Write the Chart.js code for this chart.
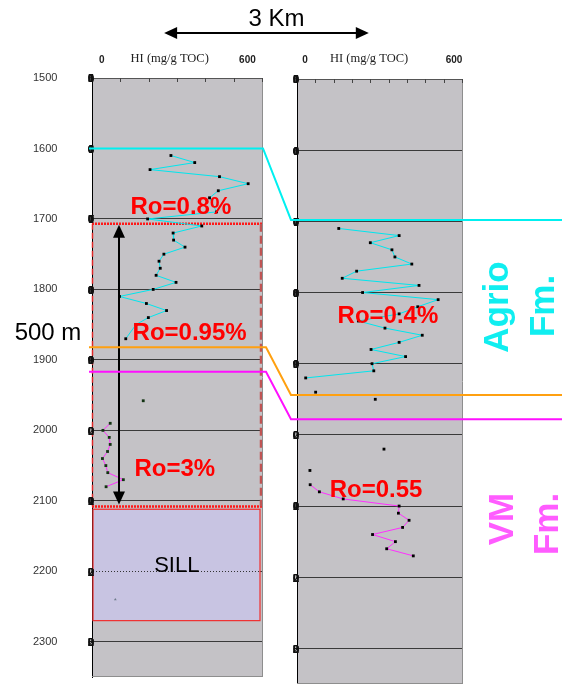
<!DOCTYPE html>
<html>
<head>
<meta charset="utf-8">
<script src="https://cdn.jsdelivr.net/npm/chart.js@4.4.1/dist/chart.umd.min.js"></script>
<style>
  body { margin: 0; background: #fff; }
  #wrap { position: relative; width: 562px; height: 684px; overflow: hidden; }
  #wrap canvas { position: absolute; top: 0; left: 0; }
</style>
</head>
<body>
<div id="wrap">
  <canvas id="wellA" width="270" height="684"></canvas>
  <canvas id="wellB" width="562" height="684"></canvas>
</div>
<script>
// depth ticks (m) and HI axis labels
const depthTicks = [1500, 1600, 1700, 1800, 1900, 2000, 2100, 2200, 2300];
const hiTickLabels = ['0', 'HI (mg/g TOC)', '600'];
const hiTickValuesA = [0, 280, 600];
const hiTickValuesB = [0, 258, 600];

// well A (left) - Agrio Fm. samples
const agrioDepthA = [1610, 1620, 1630, 1640, 1650, 1660, 1670, 1690, 1700, 1710, 1720, 1730, 1740,
  1750, 1760, 1770, 1780, 1790, 1800, 1810, 1820, 1830, 1840, 1850, 1870];
const agrioHiA = [285, 383, 199, 485, 603, 480, 444, 473, 189, 412, 294, 296, 343,
  256, 236, 241, 224, 306, 212, 73, 184, 267, 192, 141, 99];
// well A - Vaca Muerta samples
const vmDepthA = [1990, 2000, 2010, 2020, 2030, 2040, 2050, 2060, 2070, 2080];
const vmHiA = [35, 5, 31, 35, 24, 3, 17, 25, 89, 18];
const looseDepthA = [1958];
const looseHiA = [171];
const sillDepthA = [2240];
const sillHiA = [56];

// well B (right)
const agrioDepthB = [1710, 1720, 1730, 1740, 1750, 1760, 1770, 1780, 1790, 1800, 1810, 1820, 1830,
  1840, 1850, 1860, 1870, 1880, 1890, 1900, 1910, 1920];
const agrioHiB = [136, 379, 263, 350, 362, 430, 208, 150, 459, 232, 536, 454, 379,
  215, 322, 472, 379, 266, 405, 270, 277, 3];
const looseDepthB = [1940, 1950, 2020, 2050];
const looseHiB = [43, 283, 318, 20];
const vmDepthB = [2070, 2080, 2090, 2100, 2110, 2120, 2130, 2140, 2150, 2160, 2170];
const vmHiB = [21, 58, 154, 379, 376, 419, 393, 272, 364, 329, 436];

// correlation tops (left depth -> right depth)
const corrColors = ['#00F0F0', '#FFA010', '#FF10FF'];
const corrDepthA = [1600, 1882, 1917];
const corrDepthB = [1698, 1944, 1978];

// sill and thermal aureole in well A
const aureoleTop = 1707, aureoleBase = 2108;
const sillTop = 2112, sillBase = 2270;

const roTextA = ['Ro=0.8%', 'Ro=0.95%', 'Ro=3%'];
const roHiA = [326, 362, 301];
const roDepthA = [1684, 1862, 2055];
const roTextB = ['Ro=0.4%', 'Ro=0.55'];
const roHiB = [334, 286];
const roDepthB = [1833, 2078];

const pairs = (xs, ys) => xs.map((x, i) => ({ x: x, y: ys[i] }));

const SANS = 'Liberation Sans, Arial, sans-serif';
const SERIF = 'Liberation Serif, Times New Roman, serif';

function arrowHead(ctx, x, y, dir, w, h) {
  ctx.beginPath();
  if (dir === 'up') { ctx.moveTo(x, y); ctx.lineTo(x - w / 2, y + h); ctx.lineTo(x + w / 2, y + h); }
  if (dir === 'down') { ctx.moveTo(x, y); ctx.lineTo(x - w / 2, y - h); ctx.lineTo(x + w / 2, y - h); }
  if (dir === 'left') { ctx.moveTo(x, y); ctx.lineTo(x + h, y - w / 2); ctx.lineTo(x + h, y + w / 2); }
  if (dir === 'right') { ctx.moveTo(x, y); ctx.lineTo(x - h, y - w / 2); ctx.lineTo(x - h, y + w / 2); }
  ctx.closePath();
  ctx.fill();
}

function redText(ctx, xs, ys, texts, xv, yv) {
  ctx.save();
  ctx.fillStyle = '#FF0000';
  ctx.font = 'bold 24px ' + SANS;
  ctx.textAlign = 'center';
  ctx.textBaseline = 'middle';
  texts.forEach((t, i) => ctx.fillText(t, xs.getPixelForValue(xv[i]), ys.getPixelForValue(yv[i])));
  ctx.restore();
}

function vText(ctx, text, x, y, color, size) {
  ctx.save();
  ctx.translate(x, y);
  ctx.rotate(-Math.PI / 2);
  ctx.fillStyle = color;
  ctx.font = 'bold ' + size + 'px ' + SANS;
  ctx.textAlign = 'center';
  ctx.textBaseline = 'middle';
  ctx.fillText(text, 0, 0);
  ctx.restore();
}

// grey log panel, borders, top tick marks, squashed depth digits
const panelPlugin = {
  id: 'panel',
  beforeDraw(chart) {
    const { ctx, chartArea: a } = chart;
    ctx.save();
    ctx.fillStyle = '#C4C2C6';
    ctx.fillRect(a.left, a.top, a.right - a.left, a.bottom - a.top);
    ctx.restore();
  },
  afterDraw(chart, args, opts) {
    const { ctx, chartArea: a } = chart;
    ctx.save();
    ctx.strokeStyle = '#8e8e8e';
    ctx.lineWidth = 1;
    ctx.beginPath();
    ctx.moveTo(a.right + 0.5, a.top);
    ctx.lineTo(a.right + 0.5, a.bottom);
    ctx.moveTo(a.left, a.bottom - 0.5);
    ctx.lineTo(a.right, a.bottom - 0.5);
    ctx.stroke();
    ctx.strokeStyle = '#444';
    ctx.beginPath();
    for (let i = 0; i <= opts.topTicks; i++) {
      const x = Math.round(a.left + (a.right - a.left) * i / opts.topTicks) + 0.5;
      ctx.moveTo(x, a.top);
      ctx.lineTo(x, a.top + 4);
    }
    ctx.stroke();
    // overlapping digits at the panel edge
    ctx.fillStyle = '#111';
    ctx.font = 'bold 13px ' + SERIF;
    ctx.textAlign = 'center';
    ctx.textBaseline = 'middle';
    const ys = chart.scales.y;
    ys.ticks.forEach(t => {
      const y = ys.getPixelForValue(t.value);
      String(t.value).split('').forEach(ch => ctx.fillText(ch, a.left - 1, y + 1));
    });
    ctx.restore();
  }
};

const wellAPlugin = {
  id: 'wellA',
  beforeDatasetsDraw(chart) {
    const { ctx, chartArea: a, scales: { y } } = chart;
    ctx.save();
    // sill body
    const sT = y.getPixelForValue(sillTop), sB = y.getPixelForValue(sillBase);
    ctx.fillStyle = '#C8C4E2';
    ctx.fillRect(a.left + 1, sT, a.right - a.left - 3, sB - sT);
    ctx.strokeStyle = '#F03030';
    ctx.lineWidth = 1.2;
    ctx.strokeRect(a.left + 1, sT, a.right - a.left - 3, sB - sT);
    ctx.strokeStyle = '#333';
    ctx.lineWidth = 1;
    ctx.setLineDash([1, 2]);
    const y22 = Math.round(y.getPixelForValue(2200)) + 0.5;
    ctx.beginPath();
    ctx.moveTo(a.left + 1, y22);
    ctx.lineTo(a.right - 2, y22);
    ctx.stroke();
    // aureole outline
    const aT = y.getPixelForValue(aureoleTop), aB = y.getPixelForValue(aureoleBase);
    ctx.strokeStyle = '#FF1818';
    ctx.lineWidth = 2.5;
    ctx.setLineDash([2, 1]);
    ctx.beginPath();
    ctx.moveTo(a.left, aT); ctx.lineTo(a.right, aT);
    ctx.moveTo(a.left, aB); ctx.lineTo(a.right, aB);
    ctx.stroke();
    ctx.lineWidth = 1.5;
    ctx.strokeStyle = '#E02828';
    ctx.setLineDash([6, 3]);
    ctx.beginPath();
    ctx.moveTo(a.left + 0.5, aT); ctx.lineTo(a.left + 0.5, aB);
    ctx.stroke();
    ctx.lineWidth = 2.5;
    ctx.strokeStyle = '#C05454';
    ctx.setLineDash([8, 4]);
    ctx.beginPath();
    ctx.moveTo(a.right - 1, aT); ctx.lineTo(a.right - 1, aB);
    ctx.stroke();
    ctx.restore();
  },
  afterDatasetsDraw(chart) {
    const { ctx, scales: { x, y } } = chart;
    ctx.save();
    // 500 m thickness arrow
    const ax = Math.round(x.getPixelForValue(72));
    const aT = y.getPixelForValue(aureoleTop) + 1, aB = y.getPixelForValue(aureoleBase) - 2;
    ctx.strokeStyle = '#000';
    ctx.fillStyle = '#000';
    ctx.lineWidth = 2;
    ctx.beginPath();
    ctx.moveTo(ax, aT + 10);
    ctx.lineTo(ax, aB - 10);
    ctx.stroke();
    arrowHead(ctx, ax, aT, 'up', 12, 13);
    arrowHead(ctx, ax, aB, 'down', 12, 13);
    ctx.font = '24px ' + SANS;
    ctx.textAlign = 'center';
    ctx.textBaseline = 'middle';
    ctx.fillText('500 m', 48, y.getPixelForValue(1862));
    ctx.font = '22px ' + SANS;
    ctx.fillText('SILL', x.getPixelForValue(309), y.getPixelForValue(2192));
    ctx.restore();
    redText(ctx, x, y, roTextA, roHiA, roDepthA);
  }
};

function hiAxis(min, max, values, top, pad) {
  return {
    type: 'linear', position: 'top', min: min, max: max,
    afterBuildTicks: s => { s.ticks = values.map(v => ({ value: v })); },
    afterFit: s => { s.height = top; s.paddingLeft = 0; s.paddingRight = 0; },
    grid: { display: false, drawTicks: false },
    border: { display: false },
    ticks: {
      autoSkip: false, maxRotation: 0, minRotation: 0, padding: pad, color: '#222',
      callback: (v, i) => hiTickLabels[i],
      font: c => c.index === 1 ? { family: SERIF, size: 12.5 } : { family: SANS, size: 10, weight: 'bold' }
    }
  };
}

function depthAxis(width, showLabels) {
  return {
    type: 'linear', reverse: true, min: 1500, max: 2350,
    afterBuildTicks: s => { s.ticks = depthTicks.map(v => ({ value: v })); },
    afterFit: s => { s.width = width; s.paddingTop = 0; s.paddingBottom = 0; },
    grid: { drawTicks: false, lineWidth: 1, color: c => c.tick && c.tick.value === 1500 ? '#555' : '#3a3a3a' },
    border: { display: true, color: '#000', width: 1 },
    ticks: {
      display: showLabels, padding: 0, crossAlign: 'far', color: '#333',
      font: { family: SANS, size: 11 },
      callback: v => String(v)
    }
  };
}

const dotStyle = { pointStyle: 'rect', pointRadius: 2, pointBorderWidth: 0, pointBackgroundColor: '#000', tension: 0 };

const chartA = new Chart(document.getElementById('wellA'), {
  type: 'scatter',
  data: {
    datasets: [
      Object.assign({ data: pairs(agrioHiA, agrioDepthA), showLine: true, borderColor: '#00E6EE', borderWidth: 1 }, dotStyle),
      Object.assign({ data: pairs(vmHiA, vmDepthA), showLine: true, borderColor: '#FF30FF', borderWidth: 1 }, dotStyle,
        { pointBackgroundColor: '#123312' }),
      Object.assign({ data: pairs(looseHiA, looseDepthA), showLine: false }, dotStyle, { pointBackgroundColor: '#123312' }),
      { data: pairs(sillHiA, sillDepthA), showLine: false, pointStyle: 'triangle', pointRadius: 1.6,
        pointBorderWidth: 0, pointBackgroundColor: '#6e7c8c' }
    ]
  },
  options: {
    responsive: false,
    animation: false,
    layout: { autoPadding: false, padding: { left: 33, right: 8, top: 0, bottom: 7 } },
    scales: {
      x: hiAxis(-40, 660, hiTickValuesA, 78, 12),
      y: depthAxis(59, true)
    },
    plugins: { legend: { display: false }, tooltip: { enabled: false }, panel: { topTicks: 6 } }
  },
  plugins: [panelPlugin, wellAPlugin]
});

const wellBPlugin = {
  id: 'wellB',
  afterDatasetsDraw(chart) {
    redText(chart.ctx, chart.scales.x, chart.scales.y, roTextB, roHiB, roDepthB);
  },
  afterDraw(chart) {
    const { ctx, chartArea: b, scales: { x, y } } = chart;
    const a = chartA.chartArea, yA = chartA.scales.y, xA = chartA.scales.x;
    ctx.save();
    // correlation lines between the wells
    ctx.lineWidth = 2;
    corrColors.forEach((c, i) => {
      const y1 = yA.getPixelForValue(corrDepthA[i]);
      const y2 = y.getPixelForValue(corrDepthB[i]);
      const xEnd = a.right + (i === 0 ? 1 : 4);
      ctx.strokeStyle = c;
      ctx.beginPath();
      ctx.moveTo(a.left - 3, y1);
      ctx.lineTo(xEnd, y1);
      ctx.lineTo(b.left - 6, y2);
      ctx.lineTo(chart.width, y2);
      ctx.stroke();
    });
    // distance arrow
    const x1 = xA.getPixelForValue(257), x2 = x.getPixelForValue(257), ya = 33;
    ctx.strokeStyle = '#000';
    ctx.fillStyle = '#000';
    ctx.lineWidth = 2;
    ctx.beginPath();
    ctx.moveTo(x1 + 10, ya);
    ctx.lineTo(x2 - 10, ya);
    ctx.stroke();
    arrowHead(ctx, x1, ya, 'left', 12, 13);
    arrowHead(ctx, x2, ya, 'right', 12, 13);
    ctx.font = '24px ' + SANS;
    ctx.textAlign = 'center';
    ctx.textBaseline = 'middle';
    ctx.fillText('3 Km', (x1 + x2) / 2 + 10, 19);
    ctx.restore();
    // formation names
    vText(ctx, 'Agrio', 498, 307, '#10EEF0', 35);
    vText(ctx, 'Fm.', 544, 306, '#10EEF0', 35);
    vText(ctx, 'VM', 503, 519, '#FF5CFF', 35);
    vText(ctx, 'Fm.', 548, 524, '#FF5CFF', 35);
  }
};

const chartB = new Chart(document.getElementById('wellB'), {
  type: 'scatter',
  data: {
    datasets: [
      Object.assign({ data: pairs(agrioHiB, agrioDepthB), showLine: true, borderColor: '#00E6EE', borderWidth: 1 }, dotStyle),
      Object.assign({ data: pairs(looseHiB, looseDepthB), showLine: false }, dotStyle),
      Object.assign({ data: pairs(vmHiB, vmDepthB), showLine: true, borderColor: '#FF30FF', borderWidth: 1 }, dotStyle)
    ]
  },
  options: {
    responsive: false,
    animation: false,
    layout: { autoPadding: false, padding: { left: 263, right: 100, top: 0, bottom: 0 } },
    scales: {
      x: hiAxis(-32, 632, hiTickValuesB, 79, 13),
      y: depthAxis(34, false)
    },
    plugins: { legend: { display: false }, tooltip: { enabled: false }, panel: { topTicks: 9 } }
  },
  plugins: [panelPlugin, wellBPlugin]
});
</script>
</body>
</html>
